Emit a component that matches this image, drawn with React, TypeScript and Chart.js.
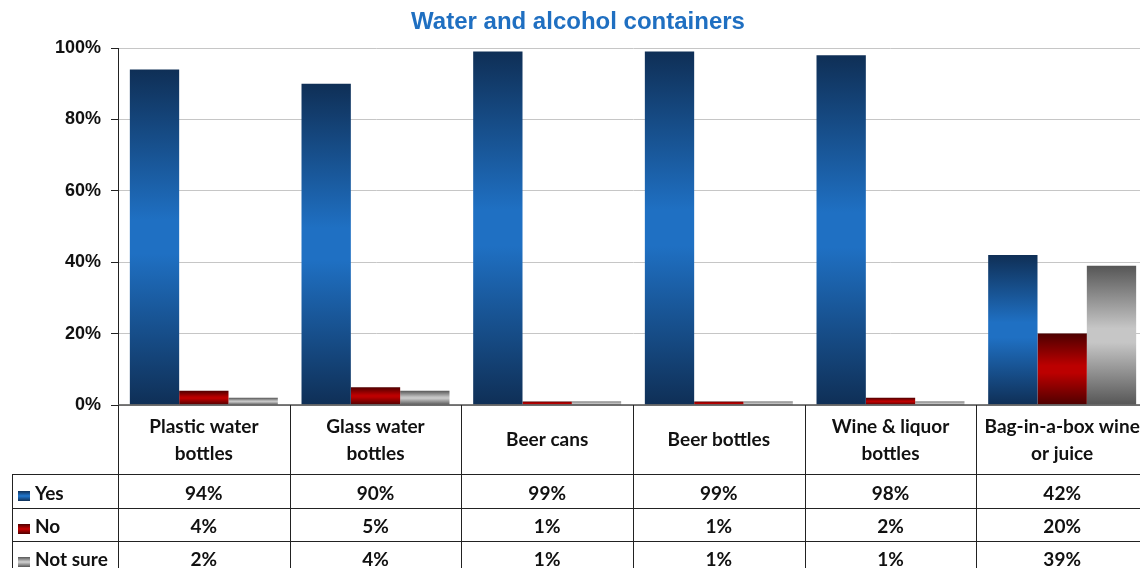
import React, { useEffect, useRef } from "react";
import { Chart, registerables } from "chart.js";

Chart.register(...registerables);

const title = "Water and alcohol containers";
const categories: string[][] = [
  ["Plastic water", "bottles"],
  ["Glass water", "bottles"],
  ["Beer cans"],
  ["Beer bottles"],
  ["Wine & liquor", "bottles"],
  ["Bag-in-a-box wine", "or juice"],
];
const seriesNames = ["Yes", "No", "Not sure"];
const yesValues = [94, 90, 99, 99, 98, 42];
const noValues = [4, 5, 1, 1, 2, 20];
const notSureValues = [2, 4, 1, 1, 1, 39];
const yMax = 100;
const yStep = 20;

const seriesValues = [yesValues, noValues, notSureValues];
const darkColors = ["#0f2f56", "#4e0000", "#565656"];
const lightColors = ["#1f70c3", "#bc0000", "#c6c6c6"];

const W = 1160;
const H = 580;

function makeGradient(c: CanvasRenderingContext2D, top: number, bottom: number, i: number) {
  const g = c.createLinearGradient(0, top, 0, bottom);
  g.addColorStop(0, darkColors[i]);
  g.addColorStop(0.45, lightColors[i]);
  g.addColorStop(0.55, lightColors[i]);
  g.addColorStop(1, darkColors[i]);
  return g;
}

const tableFont = "bold 19px Lato, 'Liberation Sans', sans-serif";

const titlePlugin = {
  id: "customTitle",
  afterDraw(chart: any) {
    const c = chart.ctx as CanvasRenderingContext2D;
    c.save();
    c.font = "bold 24px 'Liberation Sans', Arial, sans-serif";
    c.fillStyle = "#1f6fc1";
    c.textAlign = "center";
    c.textBaseline = "alphabetic";
    c.fillText(title, 578, 29);
    c.restore();
  },
};

const tablePlugin = {
  id: "dataTable",
  afterDraw(chart: any) {
    const c = chart.ctx as CanvasRenderingContext2D;
    const ca = chart.chartArea;
    const n = categories.length;
    const cw = (ca.right - ca.left) / n;
    const headerBottom = 474;
    const rowLines = [508, 541, 575];
    const rowBaselines = [500, 533, 566];
    const tableLeft = 12;
    c.save();
    // baseline axis
    c.strokeStyle = "#505050";
    c.lineWidth = 1.5;
    c.beginPath();
    c.moveTo(ca.left, ca.bottom);
    c.lineTo(ca.right, ca.bottom);
    c.stroke();

    c.strokeStyle = "#222";
    c.lineWidth = 1;
    c.beginPath();
    for (let i = 0; i <= n; i++) {
      const x = Math.round(ca.left + i * cw) + 0.5;
      c.moveTo(x, ca.bottom);
      c.lineTo(x, H);
    }
    c.moveTo(tableLeft + 0.5, headerBottom);
    c.lineTo(tableLeft + 0.5, H);
    [headerBottom, ...rowLines].forEach((y) => {
      c.moveTo(tableLeft, y + 0.5);
      c.lineTo(ca.right, y + 0.5);
    });
    c.stroke();

    c.fillStyle = "#111";
    c.font = tableFont;
    c.textAlign = "center";
    c.textBaseline = "alphabetic";
    categories.forEach((lines, i) => {
      const cx = ca.left + (i + 0.5) * cw;
      if (lines.length === 1) {
        c.fillText(lines[0], cx, 446);
      } else {
        c.fillText(lines[0], cx, 433);
        c.fillText(lines[1], cx, 460);
      }
    });
    seriesValues.forEach((vals, s) => {
      vals.forEach((v, i) => {
        const cx = ca.left + (i + 0.5) * cw;
        c.fillText(v + "%", cx, rowBaselines[s]);
      });
    });
    c.textAlign = "left";
    seriesNames.forEach((name, s) => {
      const b = rowBaselines[s];
      c.fillStyle = makeGradient(c, b - 9, b + 1, s);
      c.fillRect(18, b - 9, 12, 10);
      c.fillStyle = "#111";
      c.fillText(name, 35, b);
    });
    c.restore();
  },
};

export default function App() {
  const ref = useRef<HTMLCanvasElement>(null);
  useEffect(() => {
    const canvas = ref.current!;
    const chart = new Chart(canvas, {
      type: "bar",
      data: {
        labels: categories.map((l) => l.join(" ")),
        datasets: seriesNames.map((name, s) => ({
          label: name,
          data: seriesValues[s],
          borderWidth: 0,
          categoryPercentage: 0.862,
          barPercentage: 1,
          backgroundColor: (ctx: any) => {
            const ch = ctx.chart;
            if (!ch.chartArea || ctx.type !== "data") return lightColors[s];
            const ys = ch.scales.y;
            const v = ctx.parsed ? ctx.parsed.y : ctx.raw;
            const top = ys.getPixelForValue(v);
            const bot = ys.getPixelForValue(0);
            return makeGradient(ch.ctx, top, bot, s);
          },
        })),
      },
      options: {
        responsive: false,
        animation: false,
        devicePixelRatio: 1,
        layout: { padding: { left: 0, top: 48, right: 12, bottom: H - 405 } },
        plugins: {
          legend: { display: false },
          title: { display: false },
          tooltip: { enabled: false },
        },
        scales: {
          x: { display: false },
          y: {
            min: 0,
            max: yMax,
            ticks: {
              stepSize: yStep,
              callback: (v: any) => v + "%",
              font: { family: "'Liberation Sans', Arial, sans-serif", size: 18, weight: "bold" },
              color: "#111",
              padding: 10,
            },
            grid: { color: "#c6c6c6", lineWidth: 1, tickLength: 7, tickColor: "#222", drawTicks: true },
            border: { display: true, color: "#222", width: 1 },
            afterFit: (s: any) => {
              s.width = 118;
            },
          },
        },
      } as any,
      plugins: [tablePlugin, titlePlugin],
    });
    return () => chart.destroy();
  }, []);
  return (
    <div
      style={{
        position: "fixed",
        left: 0,
        top: 0,
        width: 1140,
        height: 568,
        overflow: "hidden",
        background: "#fff",
      }}
    >
      <canvas ref={ref} width={W} height={H} style={{ display: "block", width: W, height: H }} />
    </div>
  );
}
